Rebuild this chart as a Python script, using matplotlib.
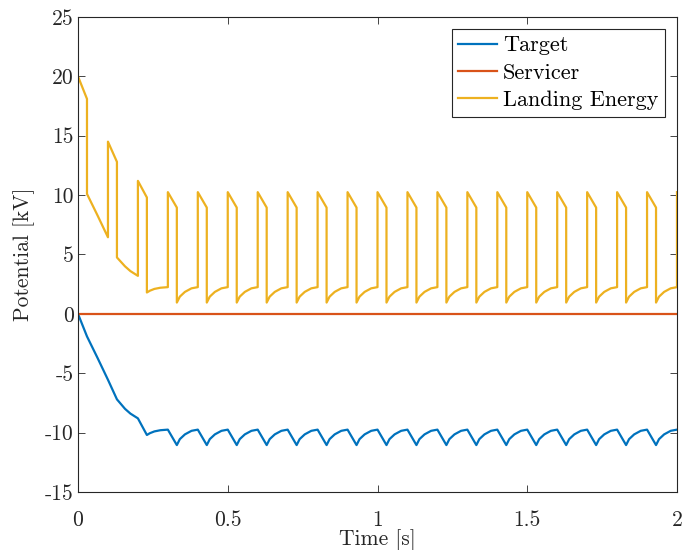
import matplotlib.pyplot as plt

plt.rcParams['font.family'] = 'serif'
plt.rcParams['font.serif'] = ['cmr10']
plt.rcParams['axes.unicode_minus'] = False
plt.rcParams['mathtext.fontset'] = 'cm'

# transient part (first 0.3 s)
target_t0 = [0.0, 0.03, 0.065, 0.1, 0.13, 0.157, 0.175, 0.2, 0.23, 0.24, 0.255, 0.275, 0.3]
target_v0 = [0.0, -1.9, -3.7, -5.55, -7.2, -8.0, -8.4, -8.8, -10.2, -10.05, -9.9, -9.8, -9.75]

energy_t0 = [0.0, 0.03, 0.03, 0.065, 0.1, 0.1, 0.13, 0.13, 0.157, 0.175, 0.2, 0.2,
             0.23, 0.23, 0.24, 0.255, 0.275, 0.3]
energy_v0 = [20.0, 18.1, 10.1, 8.3, 6.45, 14.5, 12.8, 4.75, 4.0, 3.6, 3.2, 11.2,
             9.8, 1.8, 1.95, 2.1, 2.2, 2.25]

# steady cycles (every 0.1 s from 0.3 s on), one cycle
cycle_starts = [0.3, 0.4, 0.5, 0.6, 0.7, 0.8, 0.9, 1.0, 1.1, 1.2, 1.3, 1.4, 1.5,
                1.6, 1.7, 1.8, 1.9]
target_cyc_dt = [0.03, 0.04, 0.057, 0.079, 0.1]
target_cyc_v = [-11.05, -10.55, -10.15, -9.85, -9.75]
energy_cyc_dt = [0.0, 0.03, 0.03, 0.04, 0.057, 0.079, 0.1]
energy_cyc_v = [10.25, 8.95, 0.95, 1.45, 1.85, 2.15, 2.25]
energy_end = (2.0, 10.25)

servicer_t = [0.0, 2.0]
servicer_v = [0.0, 0.0]

x_ticks = [0, 0.5, 1, 1.5, 2]
x_labels = ['0', '0.5', '1', '1.5', '2']
y_ticks = [-15, -10, -5, 0, 5, 10, 15, 20, 25]
y_labels = ['-15', '-10', '-5', '0', '5', '10', '15', '20', '25']

# build the full series
target_t = list(target_t0)
target_v = list(target_v0)
energy_t = list(energy_t0)
energy_v = list(energy_v0)
for s in cycle_starts:
    target_t += [s + d for d in target_cyc_dt]
    target_v += target_cyc_v
    energy_t += [s + d for d in energy_cyc_dt]
    energy_v += energy_cyc_v
energy_t.append(energy_end[0])
energy_v.append(energy_end[1])

fig = plt.figure(figsize=(6.94, 5.5), dpi=100)
ax = fig.add_axes([0.1124, 0.1055, 0.8631, 0.8636])

ax.plot(target_t, target_v, color='#0072BD', lw=1.6, label='Target')
ax.plot(servicer_t, servicer_v, color='#D95319', lw=1.6, label='Servicer')
ax.plot(energy_t, energy_v, color='#EDB120', lw=1.6, label='Landing Energy')

ax.set_xlim(0, 2)
ax.set_ylim(-15, 25)
ax.set_xticks(x_ticks)
ax.set_xticklabels(x_labels)
ax.set_yticks(y_ticks)
ax.set_yticklabels(y_labels)
ax.tick_params(direction='in', length=5, width=0.6, top=True, right=True,
               labelsize=15.5, colors='#262626')
ax.tick_params(axis='x', pad=13)
ax.tick_params(axis='y', pad=3)
for sp in ax.spines.values():
    sp.set_color('#262626')
    sp.set_linewidth(0.8)

ax.set_xlabel('Time [s]', fontsize=15.5, color='#262626', labelpad=0)
ax.set_ylabel('Potential [kV]', fontsize=15.5, color='#262626', labelpad=7)

leg = ax.legend(loc='upper right', fontsize=16, fancybox=False, framealpha=1,
                edgecolor='#262626', borderaxespad=0.55, handlelength=1.75,
                handletextpad=0.25, borderpad=0.3, labelspacing=0.35)
leg.get_frame().set_linewidth(0.8)

fig.savefig('out.png', dpi=100)
